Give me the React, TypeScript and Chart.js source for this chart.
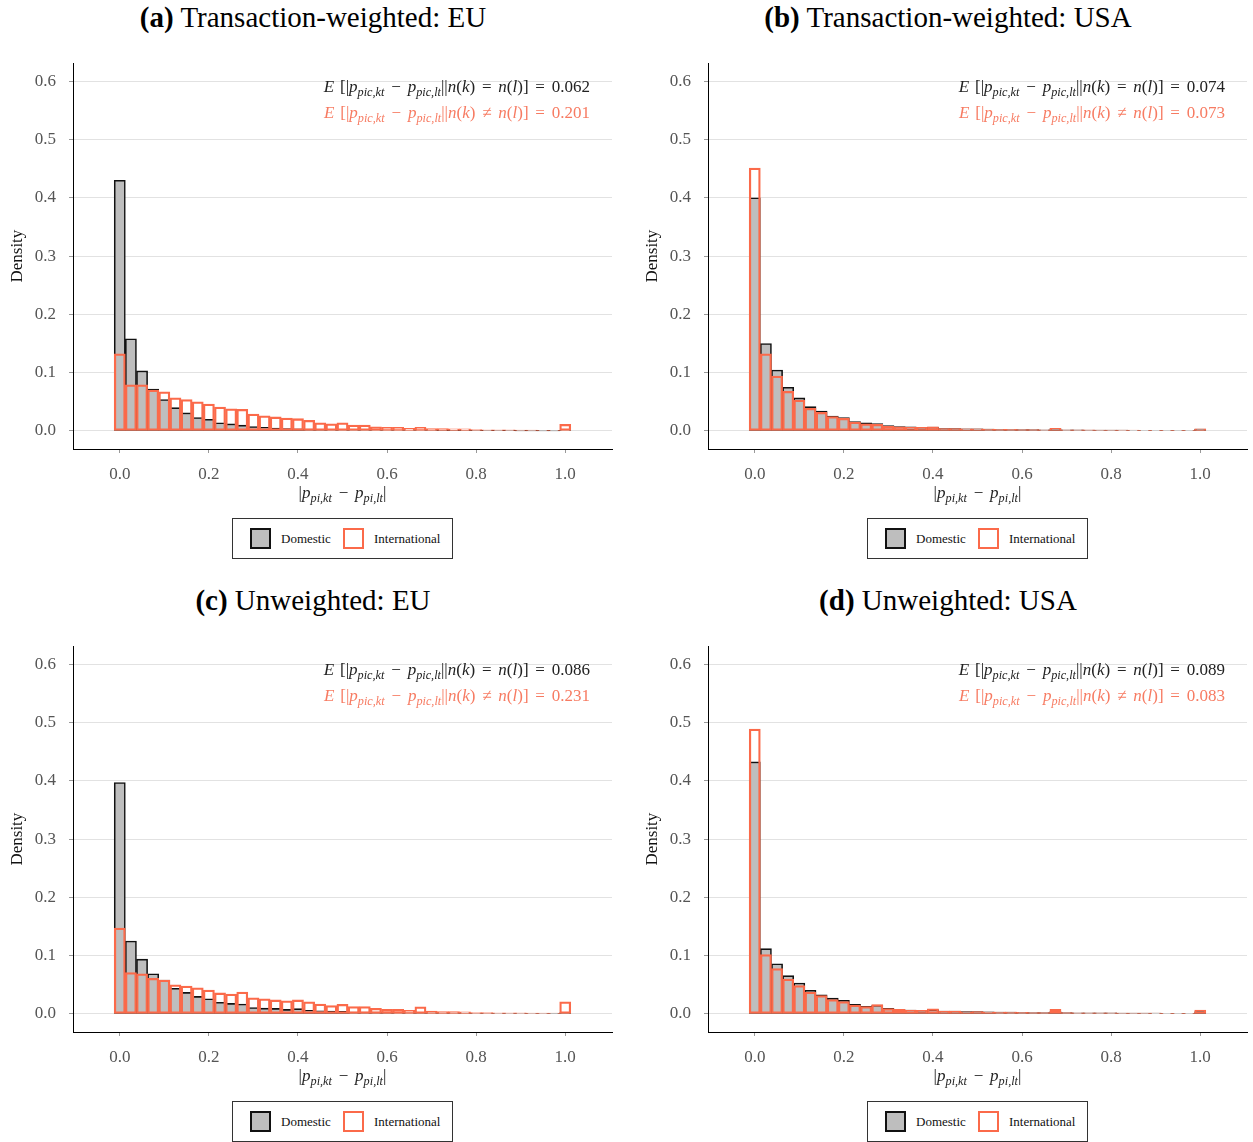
import React, { useEffect, useRef } from 'react';
import { Chart, registerables } from 'chart.js';

Chart.register(...registerables);

// Bin centres (bin width 0.025)
const BIN_CENTERS = [
  0, 0.025, 0.05, 0.075, 0.1, 0.125, 0.15, 0.175, 0.2, 0.225,
  0.25, 0.275, 0.3, 0.325, 0.35, 0.375, 0.4, 0.425, 0.45, 0.475,
  0.5, 0.525, 0.55, 0.575, 0.6, 0.625, 0.65, 0.675, 0.7, 0.725,
  0.75, 0.775, 0.8, 0.825, 0.85, 0.875, 0.9, 0.925, 0.95, 0.975, 1.0,
];

const X_TICKS = [0, 0.2, 0.4, 0.6, 0.8, 1.0];
const Y_TICKS = [0, 0.1, 0.2, 0.3, 0.4, 0.5, 0.6];

// (a) Transaction-weighted: EU
const DOM_A = [
  0.430, 0.158, 0.103, 0.072, 0.054, 0.040, 0.031, 0.023, 0.020, 0.014,
  0.012, 0.010, 0.0075, 0.006, 0.005, 0.004, 0.0035, 0.003, 0.0025, 0.002,
  0.002, 0.0015, 0.0015, 0.0012, 0.001, 0.001, 0.0008, 0.001, 0.0007, 0.0006,
  0.0005, 0.0004, 0.0004, 0.0003, 0.0003, 0.0003, 0.0002, 0.0002, 0.0002, 0.0002, 0.001,
];
const INTL_A = [
  0.1325, 0.079, 0.079, 0.070, 0.067, 0.057, 0.054, 0.050, 0.046, 0.041,
  0.038, 0.037, 0.029, 0.026, 0.024, 0.022, 0.021, 0.018, 0.014, 0.012,
  0.014, 0.010, 0.010, 0.007, 0.006, 0.006, 0.0045, 0.006, 0.004, 0.004,
  0.0035, 0.0035, 0.0025, 0.002, 0.002, 0.0018, 0.0015, 0.0015, 0.0012, 0.001, 0.0115,
];

// (b) Transaction-weighted: USA
const DOM_B = [
  0.400, 0.150, 0.1045, 0.075, 0.0566, 0.0417, 0.034, 0.0257, 0.0229, 0.016,
  0.0137, 0.0126, 0.009, 0.0075, 0.007, 0.006, 0.0065, 0.004, 0.004, 0.0035,
  0.0035, 0.003, 0.0028, 0.0025, 0.0024, 0.0022, 0.002, 0.0042, 0.0018, 0.0017,
  0.0016, 0.0015, 0.0014, 0.0013, 0.0012, 0.0012, 0.0011, 0.001, 0.001, 0.0009, 0.003,
];
const INTL_B = [
  0.451, 0.1325, 0.094, 0.068, 0.053, 0.039, 0.032, 0.0246, 0.0217, 0.015,
  0.012, 0.0115, 0.008, 0.007, 0.006, 0.006, 0.007, 0.004, 0.004, 0.0035,
  0.0035, 0.003, 0.0028, 0.0026, 0.0025, 0.0023, 0.002, 0.0045, 0.002, 0.0018,
  0.0017, 0.0016, 0.0015, 0.0014, 0.0013, 0.0012, 0.0012, 0.0011, 0.001, 0.001, 0.0034,
];

// (c) Unweighted: EU
const DOM_C = [
  0.397, 0.125, 0.094, 0.069, 0.058, 0.044, 0.037, 0.030, 0.026, 0.020,
  0.018, 0.017, 0.011, 0.010, 0.0095, 0.0077, 0.009, 0.006, 0.0055, 0.005,
  0.0045, 0.003, 0.003, 0.003, 0.0022, 0.002, 0.002, 0.0025, 0.0018, 0.0016,
  0.0015, 0.0014, 0.0012, 0.0011, 0.001, 0.001, 0.0009, 0.0008, 0.0008, 0.0007, 0.0025,
];
const INTL_C = [
  0.1475, 0.071, 0.069, 0.061, 0.058, 0.050, 0.048, 0.0446, 0.041, 0.036,
  0.034, 0.0375, 0.0275, 0.026, 0.024, 0.0223, 0.024, 0.0206, 0.017, 0.0143,
  0.0166, 0.0126, 0.0126, 0.0097, 0.008, 0.008, 0.0063, 0.012, 0.005, 0.004,
  0.004, 0.0035, 0.0025, 0.0022, 0.002, 0.002, 0.0018, 0.0016, 0.0015, 0.0013, 0.0206,
];

// (d) Unweighted: USA
const DOM_D = [
  0.4325, 0.112, 0.086, 0.0657, 0.053, 0.0406, 0.0326, 0.027, 0.0235, 0.0166,
  0.0132, 0.015, 0.0097, 0.0074, 0.0067, 0.0063, 0.0074, 0.005, 0.005, 0.004,
  0.0042, 0.0035, 0.003, 0.003, 0.0028, 0.0025, 0.0024, 0.005, 0.0022, 0.002,
  0.002, 0.0018, 0.0017, 0.0016, 0.0015, 0.0014, 0.0013, 0.0012, 0.0012, 0.0011, 0.004,
];
const INTL_D = [
  0.4886, 0.1017, 0.0777, 0.060, 0.0486, 0.0377, 0.0314, 0.0246, 0.0211, 0.0154,
  0.0126, 0.016, 0.009, 0.0077, 0.0066, 0.006, 0.0086, 0.005, 0.005, 0.0037,
  0.004, 0.0033, 0.003, 0.003, 0.0027, 0.0025, 0.0023, 0.0077, 0.0022, 0.002,
  0.002, 0.0018, 0.0017, 0.0016, 0.0015, 0.0014, 0.0013, 0.0012, 0.0012, 0.0011, 0.0068,
];

const LETTERS = ['(a)', '(b)', '(c)', '(d)'];
const TITLES = [
  'Transaction-weighted: EU',
  'Transaction-weighted: USA',
  'Unweighted: EU',
  'Unweighted: USA',
];
const EQ_MEANS = ['0.062', '0.074', '0.086', '0.089'];
const NEQ_MEANS = ['0.201', '0.073', '0.231', '0.083'];
const LEGEND_LABELS = ['Domestic', 'International'];

const SERIF = "'Liberation Serif', 'Times New Roman', 'DejaVu Serif', serif";
const RED = '#fb6a4a';
const RED_TEXT = '#f77b62';
const GRAY_FILL = '#bebebe';
const DARK = '#111111';

const COL_X = [0, 635];
const ROW_Y = [0, 583];

const subStyle: React.CSSProperties = {
  fontSize: '0.72em',
  verticalAlign: '-0.3em',
  lineHeight: 0,
};

const opStyle: React.CSSProperties = { padding: '0 0.4em' };

function Op({ c }: { c: string }) {
  return <span style={opStyle}>{c}</span>;
}

function Expr({ op, val }: { op: string; val: string }) {
  return (
    <span>
      <i>E</i>
      <span style={{ paddingLeft: '0.35em' }}>[</span>|<i>p</i>
      <sub style={subStyle}><i>pic,kt</i></sub>
      <Op c="−" />
      <i>p</i>
      <sub style={subStyle}><i>pic,lt</i></sub>||<i>n</i>(<i>k</i>)
      <Op c={op} />
      <i>n</i>(<i>l</i>)]
      <Op c="=" />
      {val}
    </span>
  );
}

function Panel({ idx, dom, intl }: { idx: number; dom: number[]; intl: number[] }) {
  const ref = useRef<HTMLCanvasElement>(null);
  const left = COL_X[idx % 2];
  const top = ROW_Y[Math.floor(idx / 2)];

  useEffect(() => {
    const tickFont = { family: SERIF, size: 17 };
    const chart = new Chart(ref.current as HTMLCanvasElement, {
      type: 'bar',
      data: {
        datasets: [
          {
            label: LEGEND_LABELS[1],
            data: BIN_CENTERS.map((x, i) => ({ x, y: intl[i] })),
            backgroundColor: 'rgba(0,0,0,0)',
            borderColor: RED,
            borderWidth: 1.6,
            borderSkipped: false,
            grouped: false,
            barPercentage: 1,
            categoryPercentage: 1,
          } as any,
          {
            label: LEGEND_LABELS[0],
            data: BIN_CENTERS.map((x, i) => ({ x, y: dom[i] })),
            backgroundColor: GRAY_FILL,
            borderColor: DARK,
            borderWidth: 1.6,
            borderSkipped: false,
            grouped: false,
            barPercentage: 1,
            categoryPercentage: 1,
          } as any,
        ],
      },
      options: {
        animation: false,
        responsive: false,
        devicePixelRatio: 1,
        layout: { padding: { top: 23, right: 14, left: 0, bottom: 0 } },
        plugins: { legend: { display: false }, tooltip: { enabled: false }, title: { display: false } },
        scales: {
          x: {
            type: 'linear',
            min: -0.105,
            max: 1.105,
            offset: false,
            afterBuildTicks: (s: any) => {
              s.ticks = X_TICKS.map((v) => ({ value: v }));
            },
            afterFit: (s: any) => {
              s.height = 41;
            },
            grid: {
              display: true,
              drawOnChartArea: false,
              drawTicks: true,
              tickLength: 4,
              tickColor: '#999',
              offset: false,
            },
            border: { display: true, color: '#000', width: 1 },
            ticks: {
              callback: (v: any) => Number(v).toFixed(1),
              font: tickFont,
              color: '#555',
              padding: 11,
              maxRotation: 0,
              autoSkip: false,
            },
          },
          y: {
            type: 'linear',
            min: -0.031,
            max: 0.631,
            afterBuildTicks: (s: any) => {
              s.ticks = Y_TICKS.map((v) => ({ value: v }));
            },
            afterFit: (s: any) => {
              s.width = 73;
            },
            grid: {
              color: '#e2e2e2',
              lineWidth: 1,
              tickColor: '#999',
              tickLength: 4,
              drawTicks: true,
            },
            border: { display: true, color: '#000', width: 1 },
            ticks: {
              callback: (v: any) => Number(v).toFixed(1),
              font: tickFont,
              color: '#555',
              padding: 13,
              autoSkip: false,
            },
            title: {
              display: true,
              text: 'Density',
              font: { family: SERIF, size: 17 },
              color: '#111',
              padding: { top: 7, bottom: 0 },
            },
          },
        },
      } as any,
    });
    return () => chart.destroy();
  }, []);

  return (
    <>
      <div
        style={{
          position: 'absolute',
          left,
          top: top + 0,
          width: 626,
          height: 34,
          lineHeight: '34px',
          textAlign: 'center',
          fontFamily: SERIF,
          fontSize: 29,
          color: '#000',
          whiteSpace: 'nowrap',
        }}
      >
        <b>{LETTERS[idx]}</b> {TITLES[idx]}
      </div>
      <canvas
        ref={ref}
        width={626}
        height={450}
        style={{ position: 'absolute', left, top: top + 40, width: 626, height: 450 }}
      />
      <div
        style={{
          position: 'absolute',
          left,
          width: 590,
          top: top + 74,
          textAlign: 'right',
          fontFamily: SERIF,
          fontSize: 17,
          lineHeight: '26px',
          whiteSpace: 'nowrap',
        }}
      >
        <div style={{ color: '#222' }}>
          <Expr op="=" val={EQ_MEANS[idx]} />
        </div>
        <div style={{ color: RED_TEXT }}>
          <Expr op="≠" val={NEQ_MEANS[idx]} />
        </div>
      </div>
      <div
        style={{
          position: 'absolute',
          left: left + 73,
          width: 539,
          top: top + 482,
          textAlign: 'center',
          fontFamily: SERIF,
          fontSize: 17,
          lineHeight: '22px',
          color: '#222',
          whiteSpace: 'nowrap',
        }}
      >
        |<i>p</i>
        <sub style={subStyle}><i>pi,kt</i></sub>
        <Op c="−" />
        <i>p</i>
        <sub style={subStyle}><i>pi,lt</i></sub>|
      </div>
      <div
        style={{
          position: 'absolute',
          left: left + 232,
          top: top + 518,
          width: 221,
          height: 41,
          boxSizing: 'border-box',
          border: '1px solid #333',
          background: '#fff',
          fontFamily: SERIF,
          fontSize: 13,
          color: '#111',
        }}
      >
        <span
          style={{
            position: 'absolute',
            left: 17,
            top: 9,
            width: 21,
            height: 21,
            boxSizing: 'border-box',
            background: GRAY_FILL,
            border: `2px solid ${DARK}`,
          }}
        />
        <span style={{ position: 'absolute', left: 48, top: 0, lineHeight: '39px' }}>{LEGEND_LABELS[0]}</span>
        <span
          style={{
            position: 'absolute',
            left: 110,
            top: 9,
            width: 21,
            height: 21,
            boxSizing: 'border-box',
            background: '#fff',
            border: `2px solid ${RED}`,
          }}
        />
        <span style={{ position: 'absolute', left: 141, top: 0, lineHeight: '39px' }}>{LEGEND_LABELS[1]}</span>
      </div>
    </>
  );
}

export default function App() {
  return (
    <div
      style={{
        position: 'absolute',
        left: 0,
        top: 0,
        width: 1253,
        height: 1142,
        overflow: 'hidden',
        background: '#fff',
      }}
    >
      <Panel idx={0} dom={DOM_A} intl={INTL_A} />
      <Panel idx={1} dom={DOM_B} intl={INTL_B} />
      <Panel idx={2} dom={DOM_C} intl={INTL_C} />
      <Panel idx={3} dom={DOM_D} intl={INTL_D} />
    </div>
  );
}
